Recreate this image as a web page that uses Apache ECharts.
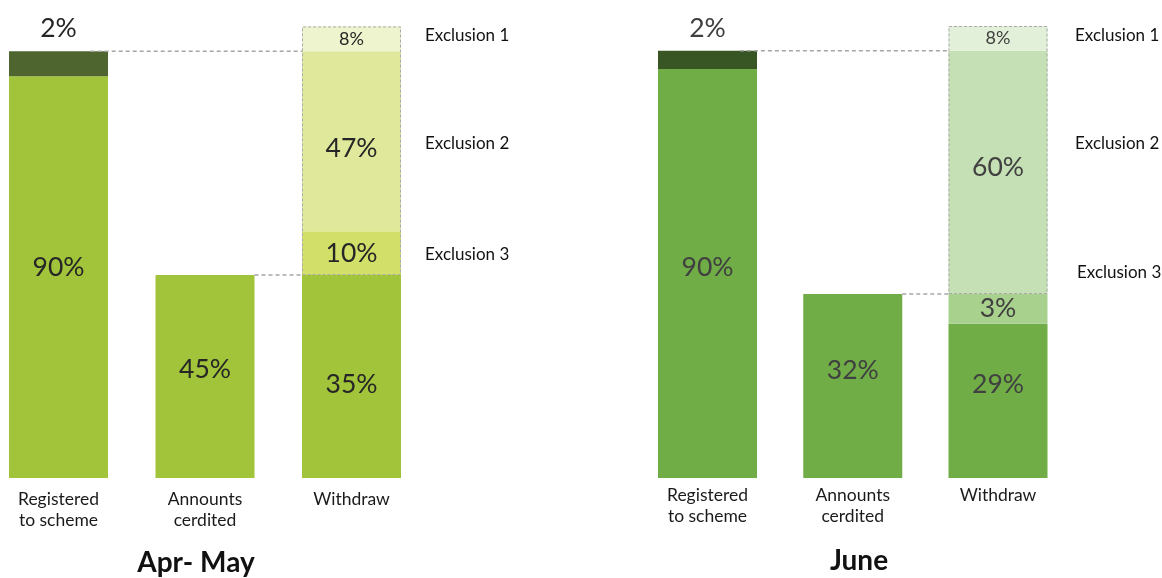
<!DOCTYPE html>
<html><head><meta charset="utf-8">
<script src="https://cdn.jsdelivr.net/npm/echarts@6/dist/echarts.min.js"></script>
<style>html,body{margin:0;padding:0;background:#fff}#c{width:1162px;height:578px}</style>
</head><body><div id="c"></div>
<script>
// Categories
const categories = ['Registered\nto scheme', 'Announts\ncerdited', 'Withdraw'];
const panelTitles = ['Apr- May', 'June'];
const exclusionNames = ['Exclusion 1', 'Exclusion 2', 'Exclusion 3'];

// Bar heights (0 = baseline, 100 = top of the Withdraw box)
// Apr-May
const aprRegistered = [88.9, 5.5];            // [main, top segment]
const aprAnnounts = 44.9;
const aprWithdraw = [44.9, 9.7, 39.8, 5.5];   // [withdrawn, excl3, excl2, excl1]
// June
const junRegistered = [90.5, 4.0];
const junAnnounts = 40.7;
const junWithdraw = [34.1, 6.6, 53.8, 5.5];

// Printed percentage labels
const aprRegLabels = ['90%', '2%'];
const aprAnnLabel = '45%';
const aprWdLabels = ['35%', '10%', '47%', '8%'];
const junRegLabels = ['90%', '2%'];
const junAnnLabel = '32%';
const junWdLabels = ['29%', '3%', '60%', '8%'];

const FONT = 'Lato';
const BARW = 99;
const BIG = 26.5;

const panels = [
  { reg: aprRegistered, ann: aprAnnounts, wd: aprWithdraw,
    regL: aprRegLabels, annL: aprAnnLabel, wdL: aprWdLabels,
    colors: { main: '#a2c43a', dark: '#4f6530', e3: '#d2e06a', e2: '#dfe89b', e1: '#eef4cd' },
    text: '#262626', left: 58.5, right: 810.5, labelMargin: 11,
    off: { reg: -10, ann: -7, wd0: 8, e2: 7 } },
  { reg: junRegistered, ann: junAnnounts, wd: junWithdraw,
    regL: junRegLabels, annL: junAnnLabel, wdL: junWdLabels,
    colors: { main: '#70ad47', dark: '#375623', e3: '#a9d18e', e2: '#c5e0b4', e1: '#e2f0d9' },
    text: '#404040', left: 707.5, right: 164, labelMargin: 7,
    off: { reg: -6, ann: -16, wd0: -16, e2: -5 } }
];

const grids = [], xAxes = [], yAxes = [], series = [];
panels.forEach((p, i) => {
  grids.push({ left: p.left, right: p.right, top: 26, bottom: 100 });
  xAxes.push({ type: 'category', gridIndex: i, data: categories, boundaryGap: false,
    axisLine: { show: false }, axisTick: { show: false }, splitLine: { show: false },
    axisLabel: { fontFamily: FONT, fontSize: 17.5, color: '#1a1a1a', lineHeight: 21, margin: p.labelMargin, interval: 0 } });
  xAxes.push({ type: 'value', gridIndex: i, min: 0, max: 2, show: false });
  yAxes.push({ type: 'value', gridIndex: i, min: 0, max: 100, show: false });
  const xc = i * 2, xv = i * 2 + 1;
  const lbl = (txt, size, off) => ({ show: true, position: 'inside', formatter: txt, fontFamily: FONT,
    fontSize: size, color: p.text, offset: [0, off || 0] });
  const base = { type: 'bar', xAxisIndex: xc, yAxisIndex: i, barWidth: BARW, stack: 's' + i, barGap: '-100%' };
  series.push(Object.assign({}, base, { data: [
    { value: p.reg[0], itemStyle: { color: p.colors.main }, label: lbl(p.regL[0], BIG, p.off.reg) },
    { value: p.ann, itemStyle: { color: p.colors.main }, label: lbl(p.annL, BIG, p.off.ann) },
    { value: p.wd[0], itemStyle: { color: p.colors.main }, label: lbl(p.wdL[0], BIG, p.off.wd0) } ] }));
  series.push(Object.assign({}, base, { data: [
    { value: p.reg[1], itemStyle: { color: p.colors.dark },
      label: { show: true, position: 'top', distance: 9, formatter: p.regL[1], fontFamily: FONT, fontSize: BIG, color: p.text } },
    '-',
    { value: p.wd[1], itemStyle: { color: p.colors.e3 }, label: lbl(p.wdL[1], BIG) } ] }));
  series.push(Object.assign({}, base, { data: ['-', '-',
    { value: p.wd[2], itemStyle: { color: p.colors.e2 }, label: lbl(p.wdL[2], BIG, p.off.e2) } ] }));
  series.push(Object.assign({}, base, { data: ['-', '-',
    { value: p.wd[3], itemStyle: { color: p.colors.e1 }, label: lbl(p.wdL[3], 18) } ] }));
  // dashed box around exclusions: from Announts level to top
  const boxBase = { type: 'bar', xAxisIndex: xc, yAxisIndex: i, barWidth: BARW, stack: 'box' + i, barGap: '-100%', silent: true };
  series.push(Object.assign({}, boxBase, { data: ['-', '-', p.ann], itemStyle: { color: 'rgba(0,0,0,0)' } }));
  const total = p.wd.reduce((a, b) => a + b, 0);
  series.push(Object.assign({}, boxBase, { data: ['-', '-', total - p.ann],
    itemStyle: { color: 'rgba(0,0,0,0)', borderColor: '#aaaaaa', borderWidth: 1, borderType: [3, 2] } }));
  // connectors
  const band = (1162 - p.left - p.right) / 2;
  const half = (BARW / 2) / band;
  const regTop = p.reg[0] + p.reg[1];
  const dash = { color: '#a6a6a6', width: 1.5, type: [4, 3] };
  series.push({ type: 'line', xAxisIndex: xv, yAxisIndex: i, symbol: 'none', silent: true, lineStyle: dash, z: 5,
    data: [[half - 0.118, regTop], [2 - half, regTop]] });
  series.push({ type: 'line', xAxisIndex: xv, yAxisIndex: i, symbol: 'none', silent: true, lineStyle: dash, z: 5,
    data: [[1 + half, p.ann], [2 - half, p.ann]] });
});

const exStyle = (t) => ({ text: t, fontFamily: FONT, fontSize: 17, fill: '#111', verticalAlign: 'middle' });
const graphic = [
  { type: 'text', x: 425, y: 36, style: exStyle(exclusionNames[0]) },
  { type: 'text', x: 425, y: 144, style: exStyle(exclusionNames[1]) },
  { type: 'text', x: 425, y: 255, style: exStyle(exclusionNames[2]) },
  { type: 'text', x: 1075, y: 36, style: exStyle(exclusionNames[0]) },
  { type: 'text', x: 1075, y: 144, style: exStyle(exclusionNames[1]) },
  { type: 'text', x: 1077, y: 273, style: exStyle(exclusionNames[2]) },
  { type: 'text', x: 196, y: 563, style: { text: panelTitles[0], fontFamily: FONT, fontSize: 28, fontWeight: 'bold',
    fill: '#111', align: 'center', verticalAlign: 'middle' } },
  { type: 'text', x: 859, y: 561, style: { text: panelTitles[1], fontFamily: FONT, fontSize: 28, fontWeight: 'bold',
    fill: '#111', align: 'center', verticalAlign: 'middle' } }
];

const chart = echarts.init(document.getElementById('c'), null, { renderer: 'canvas' });
chart.setOption({ animation: false, grid: grids, xAxis: xAxes, yAxis: yAxes, series, graphic });
</script></body></html>
